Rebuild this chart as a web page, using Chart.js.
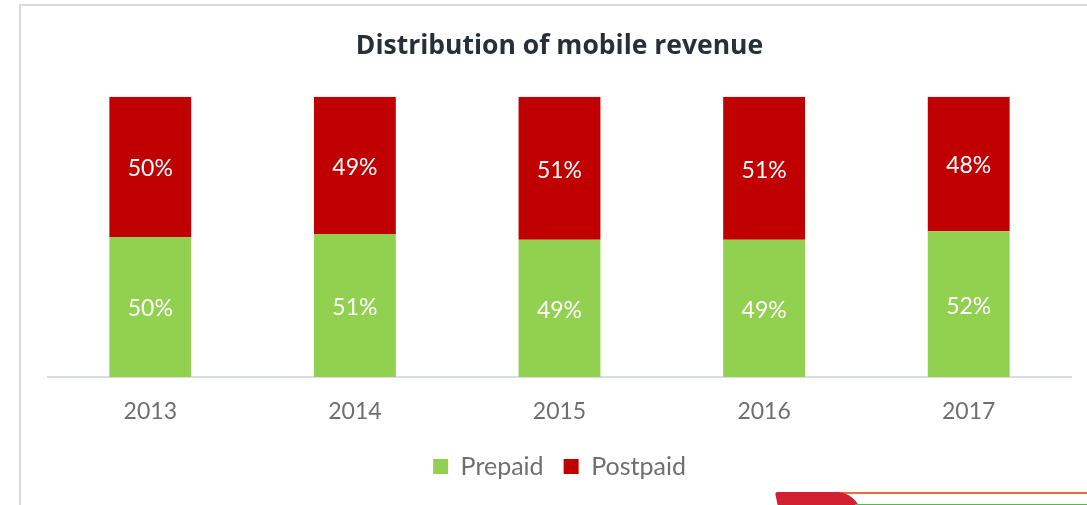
<!DOCTYPE html>
<html lang="en">
<head>
  <meta charset="UTF-8">
  <title>Distribution of mobile revenue</title>
  <script src="https://cdn.jsdelivr.net/npm/chart.js"></script>
  <style>
    html, body { margin: 0; padding: 0; background: #fff; overflow: hidden; }
    #frame {
      position: absolute; left: 19px; top: 4px; width: 1100px; height: 520px;
      border-left: 2px solid #d9d9d9; border-top: 2px solid #d9d9d9;
    }
    #chartContainer { position: absolute; left: 0; top: 0; width: 1087px; height: 505px; }
    /* bits of the next slide peeking in at the bottom right */
    #lineOrange { position: absolute; left: 800px; top: 492px; width: 287px; height: 2px; background: #ee6a3a; }
    #lineGreen { position: absolute; left: 855px; top: 504px; width: 232px; height: 1px; background: #5cb54a; }
    #blob { position: absolute; left: 777px; top: 492px; width: 82px; height: 20px; background: #d12030;
            border-radius: 6px 40px 0 0; transform: skewX(12deg); }
  </style>
</head>
<body>
  <div id="frame"></div>
  <div id="chartContainer">
    <canvas id="revenueChart"></canvas>
  </div>
  <div id="lineOrange"></div>
  <div id="blob"></div>
  <div id="lineGreen"></div>

  <script>
    const years = ['2013', '2014', '2015', '2016', '2017'];
    const prepaid = [50, 51, 49, 49, 52];
    const postpaid = [50, 49, 51, 51, 48];

    // draw the percentage inside each bar segment
    const segmentLabels = {
      id: 'segmentLabels',
      afterDatasetsDraw(chart) {
        const ctx = chart.ctx;
        ctx.save();
        ctx.fillStyle = '#ffffff';
        ctx.font = '23px Lato';
        ctx.textAlign = 'center';
        ctx.textBaseline = 'middle';
        chart.data.datasets.forEach(function(ds, i) {
          chart.getDatasetMeta(i).data.forEach(function(bar, j) {
            const mid = (bar.y + bar.base) / 2 + 2;
            ctx.fillText(ds.data[j] + '%', bar.x, mid);
          });
        });
        ctx.restore();
      }
    };

    const ctx = document.getElementById('revenueChart').getContext('2d');
    new Chart(ctx, {
      type: 'bar',
      data: {
        labels: years,
        datasets: [
          { label: 'Prepaid', data: prepaid, backgroundColor: '#92d050' },
          { label: 'Postpaid', data: postpaid, backgroundColor: '#c00000' }
        ]
      },
      options: {
        responsive: true,
        maintainAspectRatio: false,
        animation: false,
        layout: { padding: { left: 48, right: 16, top: 0, bottom: 16 } },
        datasets: { bar: { categoryPercentage: 1, barPercentage: 0.4 } },
        scales: {
          x: {
            stacked: true,
            grid: { display: false, drawTicks: false },
            border: { display: true, color: '#d9dde3', width: 2 },
            ticks: { color: '#6f6f6f', font: { family: 'Lato', size: 23, lineHeight: 1.5 }, padding: 17 },
            afterFit: function(scale) { scale.height = 57; }
          },
          y: {
            stacked: true,
            display: false,
            min: 0,
            max: 100
          }
        },
        plugins: {
          title: {
            display: true,
            text: 'Distribution of mobile revenue',
            color: '#262f3a',
            font: { family: 'Open Sans', size: 26.5, weight: 'bold', lineHeight: 1.2 },
            padding: { top: 31, bottom: 34 }
          },
          legend: {
            position: 'bottom',
            labels: {
              color: '#6f6f6f',
              font: { family: 'Lato', size: 25 },
              boxWidth: 15,
              boxHeight: 15,
              padding: 20
            }
          },
          tooltip: { enabled: false }
        }
      },
      plugins: [segmentLabels]
    });
  </script>
</body>
</html>
